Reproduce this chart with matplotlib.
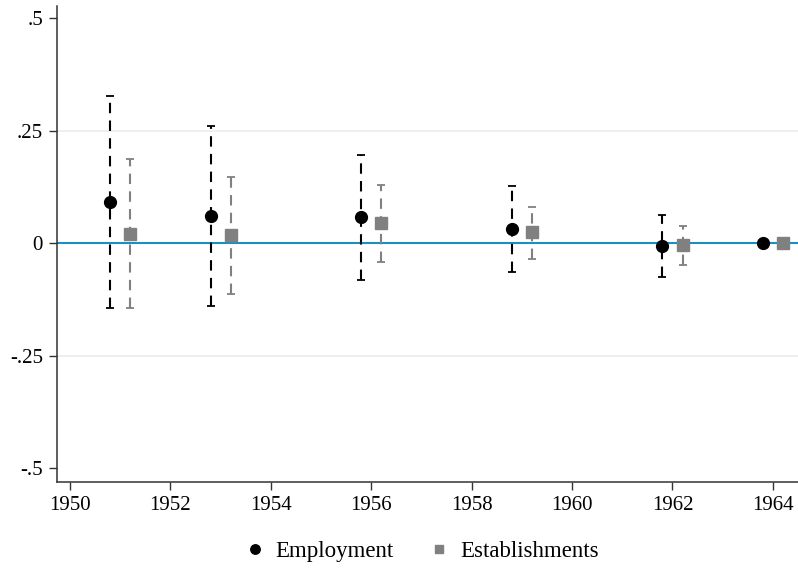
import matplotlib.pyplot as plt
import numpy as np

plt.rcParams["font.family"] = ["Liberation Serif", "DejaVu Serif"]

years = [1951, 1953, 1956, 1959, 1962, 1964]

emp_coef = [0.091, 0.060, 0.058, 0.031, -0.007, 0.0]
emp_lo = [-0.144, -0.140, -0.082, -0.064, -0.075, 0.0]
emp_hi = [0.327, 0.261, 0.195, 0.127, 0.062, 0.0]

est_coef = [0.020, 0.018, 0.044, 0.024, -0.004, 0.0]
est_lo = [-0.144, -0.113, -0.042, -0.036, -0.049, 0.0]
est_hi = [0.187, 0.147, 0.129, 0.080, 0.038, 0.0]

xticks = list(range(1950, 1965, 2))
yticks = [-0.5, -0.25, 0, 0.25, 0.5]
ylabels = ["-.5", "-.25", "0", ".25", ".5"]

fig = plt.figure(figsize=(7.98, 5.69), dpi=100)
ax = fig.add_axes([57 / 798, 87 / 569, 1 - 57 / 798, (482 - 6) / 569])

for v in (-0.25, 0.25):
    ax.axhline(v, color="#eaeef1", lw=1.2, zorder=0)
ax.axhline(0, color="#1a8fc4", lw=1.5, zorder=1)


def draw(xs, coef, lo, hi, color, marker, size, label):
    coef = np.array(coef)
    err = [coef - np.array(lo), np.array(hi) - coef]
    cont = ax.errorbar(xs, coef, yerr=err, fmt="none", ecolor=color,
                       elinewidth=1.5, capsize=3.2, capthick=1.3, zorder=2)
    for lc in cont[2]:
        lc.set_linestyle((0, (5, 3.5)))
    ax.plot(xs, coef, ls="none", marker=marker, ms=size, color=color,
            label=label, zorder=3)


draw(np.array(years) - 0.2, emp_coef, emp_lo, emp_hi, "black", "o", 8.5,
     "Employment")
draw(np.array(years) + 0.2, est_coef, est_lo, est_hi, "#808080", "s", 8,
     "Establishments")

ax.set_xlim(1949.74, 1964.5)
ax.set_ylim(-0.531, 0.527)
ax.set_xticks(xticks)
ax.set_yticks(yticks)
ax.set_yticklabels(ylabels)
ax.tick_params(labelsize=15, length=6, width=1, color="#333333", pad=4)
for s in ("top", "right"):
    ax.spines[s].set_visible(False)
for s in ("left", "bottom"):
    ax.spines[s].set_color("#333333")
    ax.spines[s].set_linewidth(1.1)

fig.legend(loc="center", bbox_to_anchor=(422 / 798, 1 - 551 / 569), ncol=2,
           frameon=False, fontsize=16.5, handlelength=0.8, handletextpad=0.5,
           columnspacing=1.6, markerscale=0.8)

fig.savefig("out.png", dpi=100)
